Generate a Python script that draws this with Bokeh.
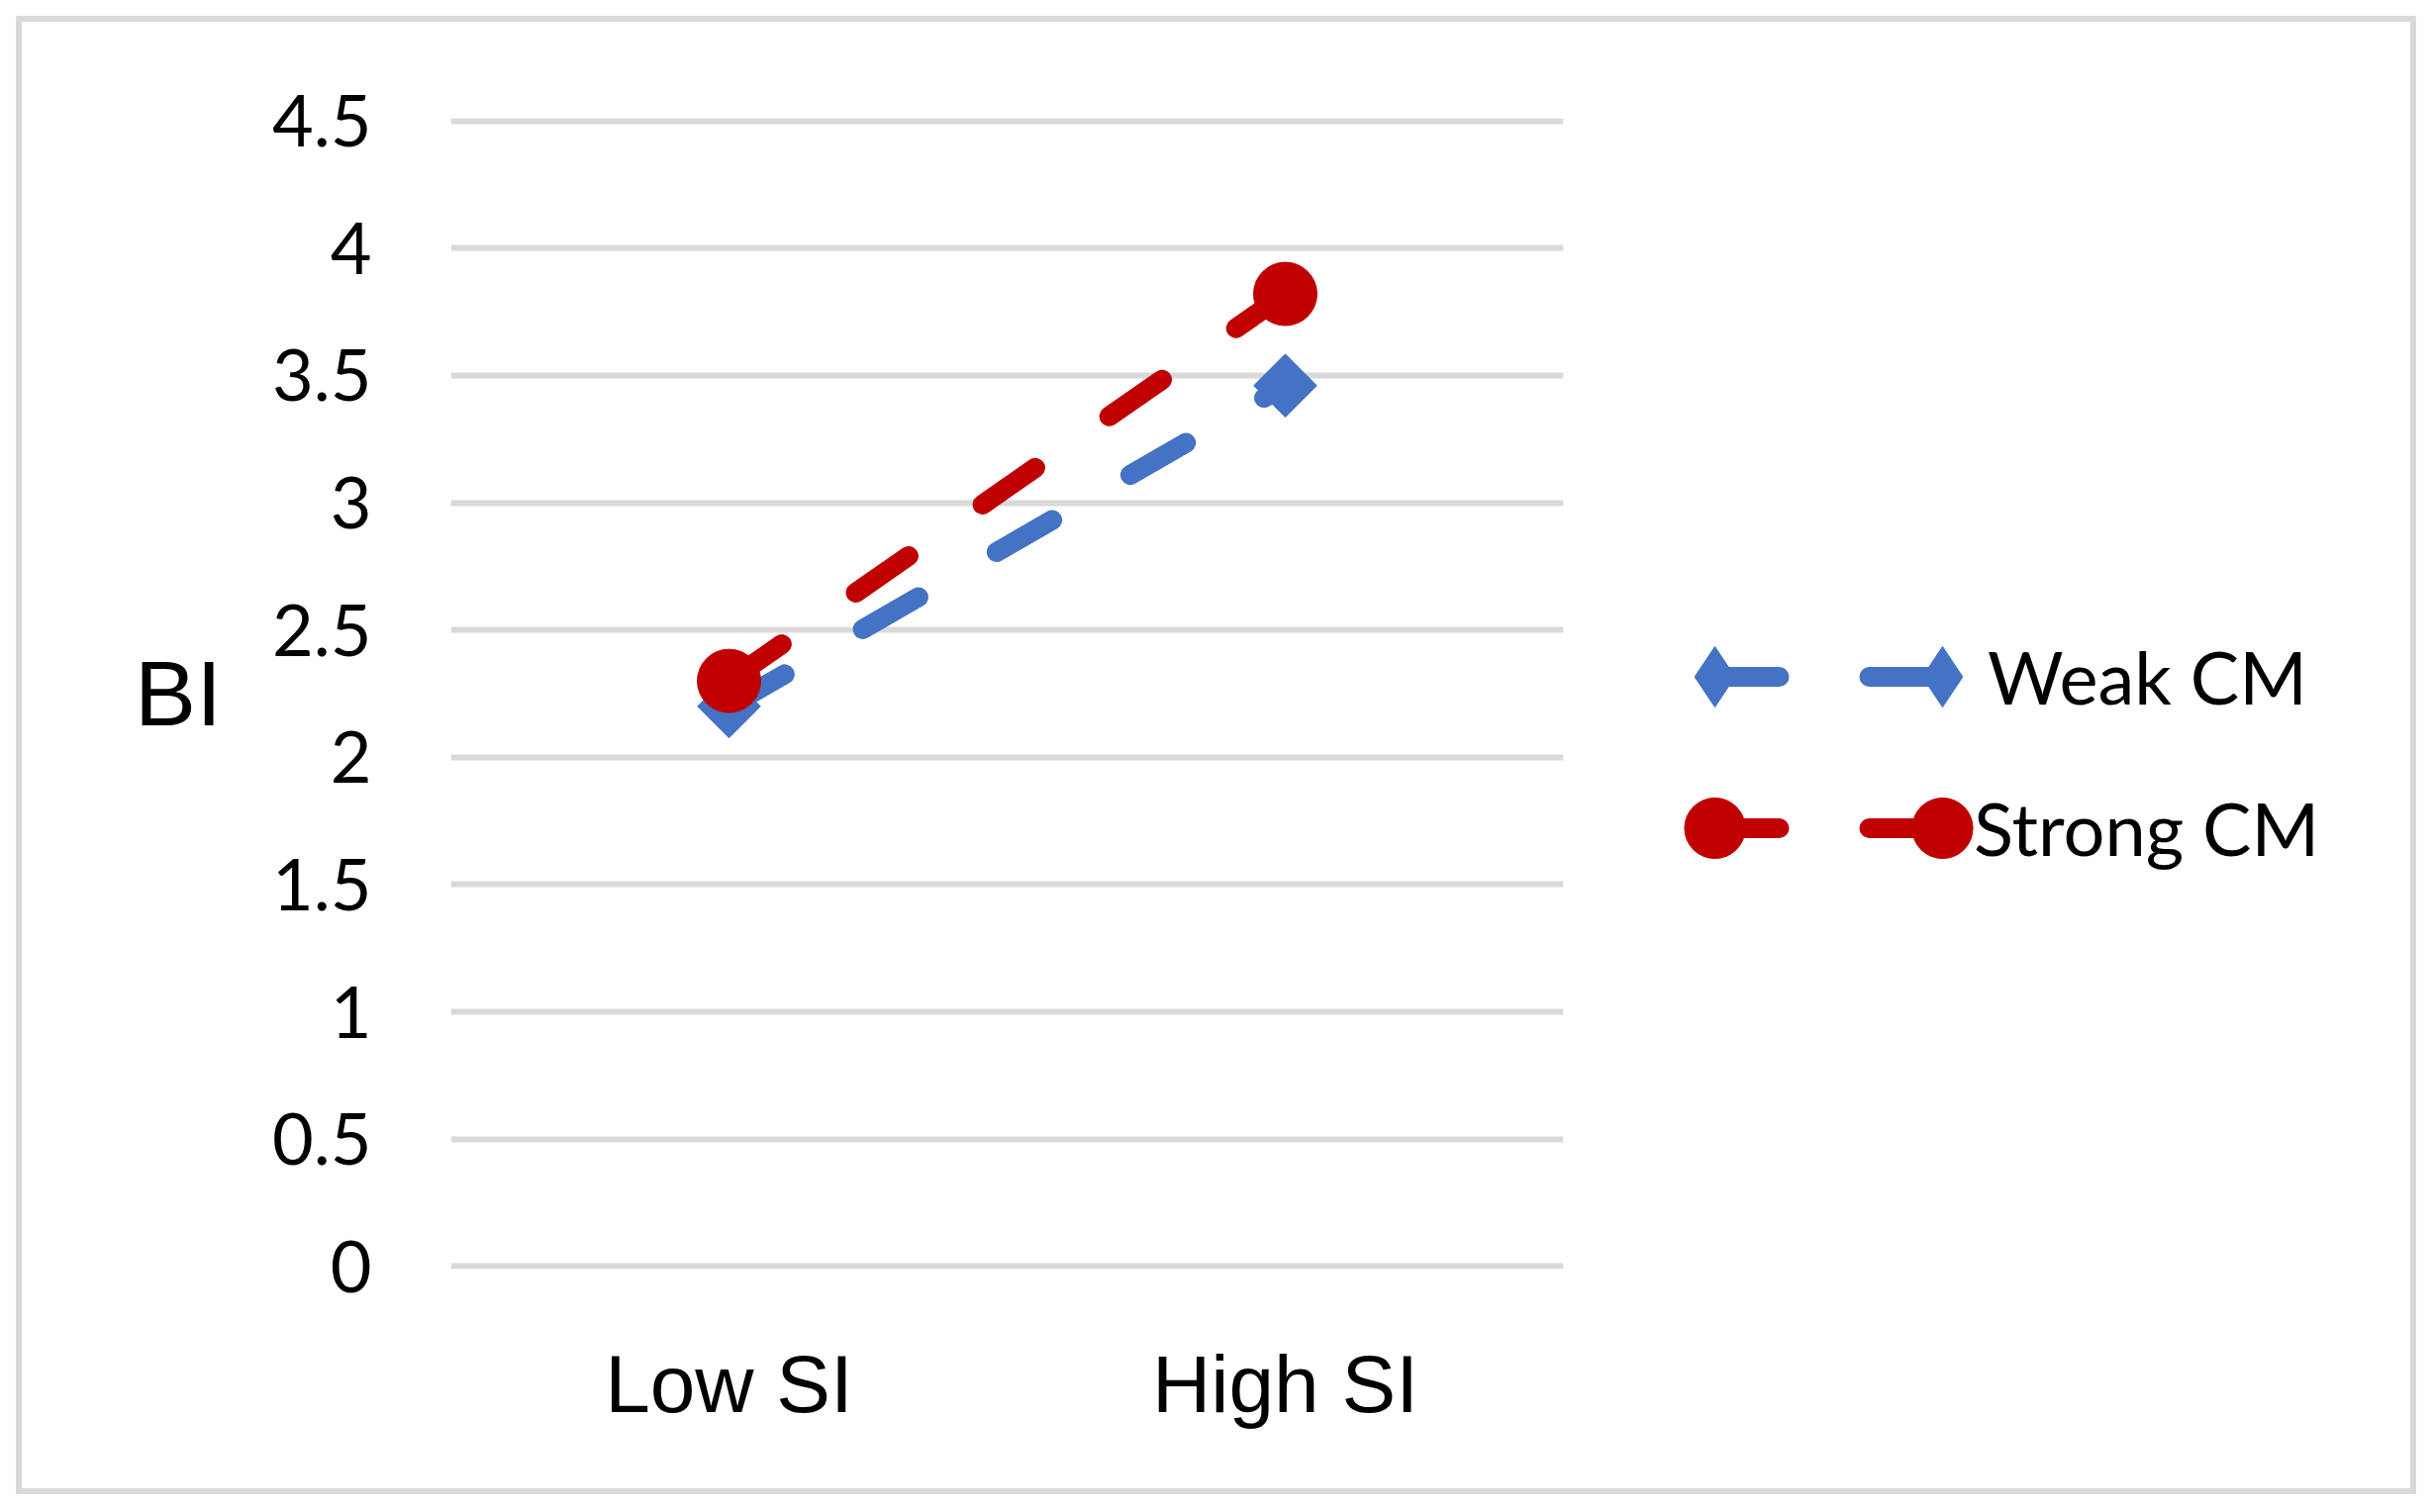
import math
from bokeh.plotting import figure
from bokeh.layouts import row
from bokeh.models import FactorRange, Range1d, FixedTicker, Legend, LegendItem
from bokeh.embed import file_html
from bokeh.resources import INLINE

# ---------------- data ----------------
categories = ["Low SI", "High SI"]
weak_cm = [2.2, 3.46]
strong_cm = [2.3, 3.82]
series_names = ["Weak CM", "Strong CM"]
y_ticks = [0, 0.5, 1, 1.5, 2, 2.5, 3, 3.5, 4, 4.5]
y_tick_labels = ["0", "0.5", "1", "1.5", "2", "2.5", "3", "3.5", "4", "4.5"]
y_axis_title = "BI"

# ---------------- style ----------------
BLUE = "#4472C4"
RED = "#C00000"
GRID = "#d9d9d9"
LINE_W = 20
DASH = "65 91"
H = 1526

# ================= chart =================
p = figure(
    x_range=FactorRange(*categories),
    y_range=Range1d(-0.01, 4.51),
    width=1629, height=H,
    min_border_left=455, min_border_right=50,
    min_border_top=119, min_border_bottom=244,
    output_backend="svg", toolbar_location=None,
)
p.outline_line_color = None
p.background_fill_color = "white"
p.border_fill_alpha = 0

p.xgrid.visible = False
p.ygrid.grid_line_color = GRID
p.ygrid.grid_line_width = 6

yax = p.yaxis[0]
xax = p.xaxis[0]
for ax in (xax, yax):
    ax.axis_line_color = None
    ax.major_tick_line_color = None
    ax.minor_tick_line_color = None
    ax.major_tick_out = 0
    ax.major_tick_in = 0

yax.ticker = FixedTicker(ticks=y_ticks)
yax.major_label_overrides = dict(zip(y_ticks, y_tick_labels))
yax.major_label_standoff = 80
yax.major_label_text_font = "Lato"
yax.major_label_text_font_size = "72px"
yax.major_label_text_color = "#000000"
yax.axis_label = y_axis_title
yax.axis_label_text_font = "Liberation Sans"
yax.axis_label_text_font_size = "93px"
yax.axis_label_text_font_style = "normal"
yax.axis_label_text_color = "#000000"
yax.axis_label_orientation = "horizontal"
yax.axis_label_standoff = 48

xax.major_label_standoff = 70
xax.major_label_text_font = "Liberation Sans"
xax.major_label_text_font_size = "82px"
xax.major_label_text_color = "#000000"

p.line(x=categories, y=weak_cm, line_color=BLUE, line_width=LINE_W,
       line_dash=DASH, line_cap="round")
p.scatter(x=categories, y=weak_cm, marker="square", size=45, angle=math.pi / 4,
          fill_color=BLUE, line_color=BLUE)
p.line(x=categories, y=strong_cm, line_color=RED, line_width=LINE_W,
       line_dash=DASH, line_cap="round")
p.scatter(x=categories, y=strong_cm, marker="circle", size=64,
          fill_color=RED, line_color=RED)

# ================= legend panel =================
# Same series drawn here only to provide legend glyphs; the y range keeps
# the points themselves out of view so only the legend shows.
q = figure(
    width=828, height=H,
    x_range=FactorRange(*categories), y_range=Range1d(10, 11),
    x_axis_type=None, y_axis_type=None,
    min_border=0, output_backend="svg", toolbar_location=None,
)
q.outline_line_color = None
q.background_fill_alpha = 0
q.border_fill_alpha = 0
q.grid.visible = False

bl = q.line(x=categories, y=weak_cm, line_color=BLUE, line_width=LINE_W,
            line_dash=DASH, line_cap="round")
rl = q.line(x=categories, y=strong_cm, line_color=RED, line_width=LINE_W,
            line_dash=DASH, line_cap="round")
bm = q.scatter(x=categories, y=weak_cm, marker="diamond", fill_color=BLUE, line_color=BLUE)
rm = q.scatter(x=categories, y=strong_cm, marker="circle", fill_color=RED, line_color=RED)
nothing = q.scatter(x=categories, y=weak_cm, fill_alpha=0, line_alpha=0)

common = dict(padding=0, spacing=0, margin=0, border_line_color=None,
              background_fill_alpha=0, glyph_height=153)
blank = dict(label_standoff=0, label_width=0, label_height=0, label_text_font_size="1px")
VY = 369
ROW = 153

leg_line = Legend(items=[LegendItem(label=" ", renderers=[bl]),
                         LegendItem(label=" ", renderers=[rl])],
                  location=(103, VY), glyph_width=230, **blank, **common)
leg_left = Legend(items=[LegendItem(label=" ", renderers=[bm]),
                         LegendItem(label=" ", renderers=[rm])],
                  location=(23, VY), glyph_width=160, **blank, **common)
leg_right = Legend(items=[LegendItem(label=" ", renderers=[bm]),
                          LegendItem(label=" ", renderers=[rm])],
                   location=(253, VY), glyph_width=160, **blank, **common)
text_style = dict(glyph_width=1, label_standoff=0, label_text_font="Lato",
                  label_text_font_size="74px", label_text_color="#000000", **common)
leg_text_weak = Legend(items=[LegendItem(label=series_names[0], renderers=[nothing])],
                       location=(378, VY + ROW), **text_style)
leg_text_strong = Legend(items=[LegendItem(label=series_names[1], renderers=[nothing])],
                         location=(364, VY), **text_style)
for leg in (leg_line, leg_left, leg_right, leg_text_weak, leg_text_strong):
    q.add_layout(leg, "center")

layout = row(p, q, spacing=0)
layout.styles = {"outline": "6px solid #d9d9d9", "outline-offset": "-22px"}

open("out.html", "w").write(file_html(layout, INLINE))
